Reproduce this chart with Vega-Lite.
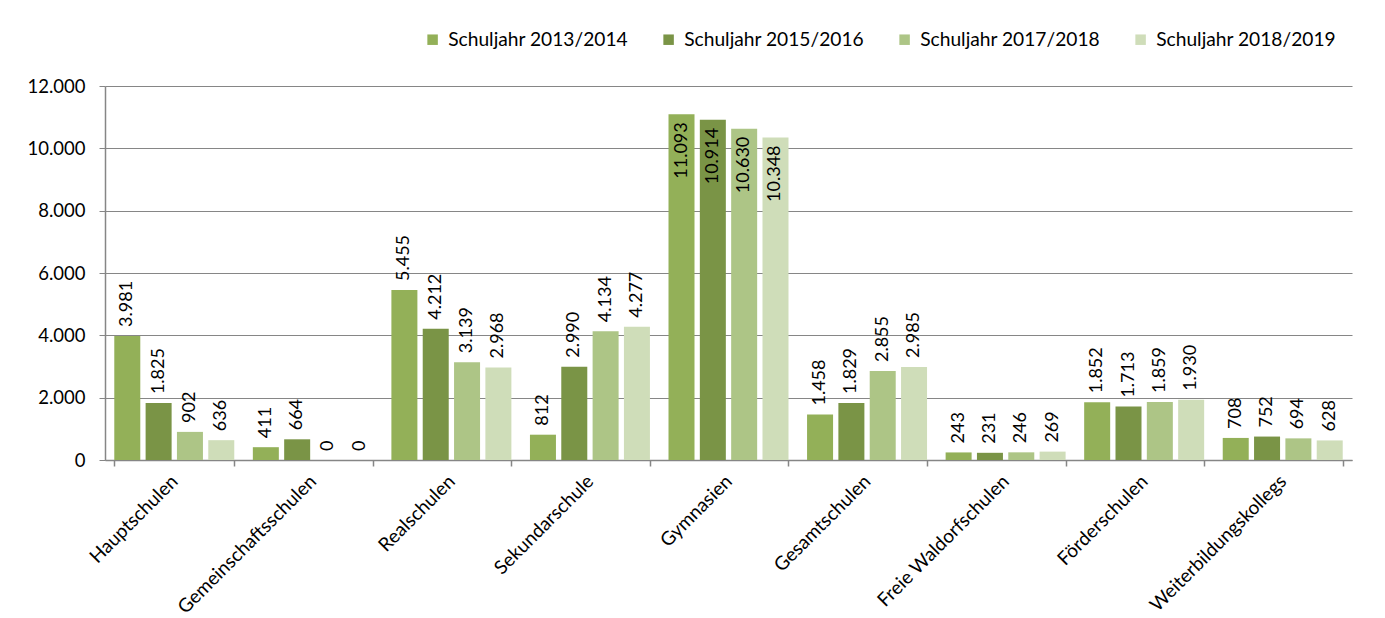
{
  "$schema": "https://vega.github.io/schema/vega-lite/v6.json",
  "width": 1247,
  "height": 374,
  "autosize": {"type": "none"},
  "padding": {"left": 105, "top": 86, "right": 33, "bottom": 158},
  "background": "white",
  "config": {
    "locale": {"number": {"decimal": ",", "thousands": ".", "grouping": [3], "currency": ["", " €"]}},
    "font": "Lato",
    "view": {"stroke": null},
    "axis": {"labelFont": "Lato", "labelFontSize": 18.5, "labelColor": "black", "domainColor": "#868686", "tickColor": "#868686", "gridColor": "#868686"}
  },
  "data": {
    "values": [
      {"schule": "Hauptschulen", "jahr": "Schuljahr 2013/2014", "wert": 3981},
      {"schule": "Hauptschulen", "jahr": "Schuljahr 2015/2016", "wert": 1825},
      {"schule": "Hauptschulen", "jahr": "Schuljahr 2017/2018", "wert": 902},
      {"schule": "Hauptschulen", "jahr": "Schuljahr 2018/2019", "wert": 636},
      {"schule": "Gemeinschaftsschulen", "jahr": "Schuljahr 2013/2014", "wert": 411},
      {"schule": "Gemeinschaftsschulen", "jahr": "Schuljahr 2015/2016", "wert": 664},
      {"schule": "Gemeinschaftsschulen", "jahr": "Schuljahr 2017/2018", "wert": 0},
      {"schule": "Gemeinschaftsschulen", "jahr": "Schuljahr 2018/2019", "wert": 0},
      {"schule": "Realschulen", "jahr": "Schuljahr 2013/2014", "wert": 5455},
      {"schule": "Realschulen", "jahr": "Schuljahr 2015/2016", "wert": 4212},
      {"schule": "Realschulen", "jahr": "Schuljahr 2017/2018", "wert": 3139},
      {"schule": "Realschulen", "jahr": "Schuljahr 2018/2019", "wert": 2968},
      {"schule": "Sekundarschule", "jahr": "Schuljahr 2013/2014", "wert": 812},
      {"schule": "Sekundarschule", "jahr": "Schuljahr 2015/2016", "wert": 2990},
      {"schule": "Sekundarschule", "jahr": "Schuljahr 2017/2018", "wert": 4134},
      {"schule": "Sekundarschule", "jahr": "Schuljahr 2018/2019", "wert": 4277},
      {"schule": "Gymnasien", "jahr": "Schuljahr 2013/2014", "wert": 11093},
      {"schule": "Gymnasien", "jahr": "Schuljahr 2015/2016", "wert": 10914},
      {"schule": "Gymnasien", "jahr": "Schuljahr 2017/2018", "wert": 10630},
      {"schule": "Gymnasien", "jahr": "Schuljahr 2018/2019", "wert": 10348},
      {"schule": "Gesamtschulen", "jahr": "Schuljahr 2013/2014", "wert": 1458},
      {"schule": "Gesamtschulen", "jahr": "Schuljahr 2015/2016", "wert": 1829},
      {"schule": "Gesamtschulen", "jahr": "Schuljahr 2017/2018", "wert": 2855},
      {"schule": "Gesamtschulen", "jahr": "Schuljahr 2018/2019", "wert": 2985},
      {"schule": "Freie Waldorfschulen", "jahr": "Schuljahr 2013/2014", "wert": 243},
      {"schule": "Freie Waldorfschulen", "jahr": "Schuljahr 2015/2016", "wert": 231},
      {"schule": "Freie Waldorfschulen", "jahr": "Schuljahr 2017/2018", "wert": 246},
      {"schule": "Freie Waldorfschulen", "jahr": "Schuljahr 2018/2019", "wert": 269},
      {"schule": "Förderschulen", "jahr": "Schuljahr 2013/2014", "wert": 1852},
      {"schule": "Förderschulen", "jahr": "Schuljahr 2015/2016", "wert": 1713},
      {"schule": "Förderschulen", "jahr": "Schuljahr 2017/2018", "wert": 1859},
      {"schule": "Förderschulen", "jahr": "Schuljahr 2018/2019", "wert": 1930},
      {"schule": "Weiterbildungskollegs", "jahr": "Schuljahr 2013/2014", "wert": 708},
      {"schule": "Weiterbildungskollegs", "jahr": "Schuljahr 2015/2016", "wert": 752},
      {"schule": "Weiterbildungskollegs", "jahr": "Schuljahr 2017/2018", "wert": 694},
      {"schule": "Weiterbildungskollegs", "jahr": "Schuljahr 2018/2019", "wert": 628}
    ]
  },
  "encoding": {
    "x": {
      "field": "schule", "type": "nominal", "sort": null, "title": null,
      "scale": {"paddingInner": 0.134, "paddingOuter": 0.067},
      "axis": {"labelAngle": -45, "labelAlign": "right", "labelBaseline": "middle", "labelFontSize": 19, "labelLimit": 0, "tickBand": "extent", "tickSize": 6, "labelPadding": 12, "domainWidth": 1.5, "tickWidth": 1.5}
    },
    "xOffset": {"field": "jahr", "type": "nominal", "sort": null, "scale": {"paddingInner": 0.17, "paddingOuter": 0}},
    "y": {
      "field": "wert", "type": "quantitative", "title": null,
      "scale": {"domain": [0, 12000], "nice": false},
      "axis": {"values": [0, 2000, 4000, 6000, 8000, 10000, 12000], "format": ",.0f", "tickSize": 6, "labelPadding": 14, "domainWidth": 1.5, "gridWidth": 1.2}
    }
  },
  "layer": [
    {
      "mark": {"type": "bar"},
      "encoding": {
        "color": {
          "field": "jahr", "type": "nominal", "sort": null,
          "scale": {"domain": ["Schuljahr 2013/2014", "Schuljahr 2015/2016", "Schuljahr 2017/2018", "Schuljahr 2018/2019"], "range": ["#93b058", "#7a9446", "#adc586", "#cfddb9"]},
          "legend": {
            "title": null, "orient": "none", "direction": "horizontal", "legendX": 318, "legendY": -56,
            "symbolType": "square", "symbolSize": 110, "symbolStrokeWidth": 0, "labelFontSize": 19.2, "labelFont": "Lato", "labelColor": "black", "labelLimit": 0,
            "columnPadding": 30, "labelOffset": 6
          }
        }
      }
    },
    {
      "transform": [{"filter": "datum.wert < 10000"}],
      "mark": {"type": "text", "angle": 270, "align": "left", "baseline": "middle", "dx": 9, "fontSize": 18, "font": "Lato", "color": "black"},
      "encoding": {"text": {"field": "wert", "type": "quantitative", "format": ",.0f"}}
    },
    {
      "transform": [{"filter": "datum.wert >= 10000"}],
      "mark": {"type": "text", "angle": 270, "align": "right", "baseline": "middle", "dx": -8, "fontSize": 18, "font": "Lato", "color": "black"},
      "encoding": {"text": {"field": "wert", "type": "quantitative", "format": ",.0f"}}
    }
  ]
}
